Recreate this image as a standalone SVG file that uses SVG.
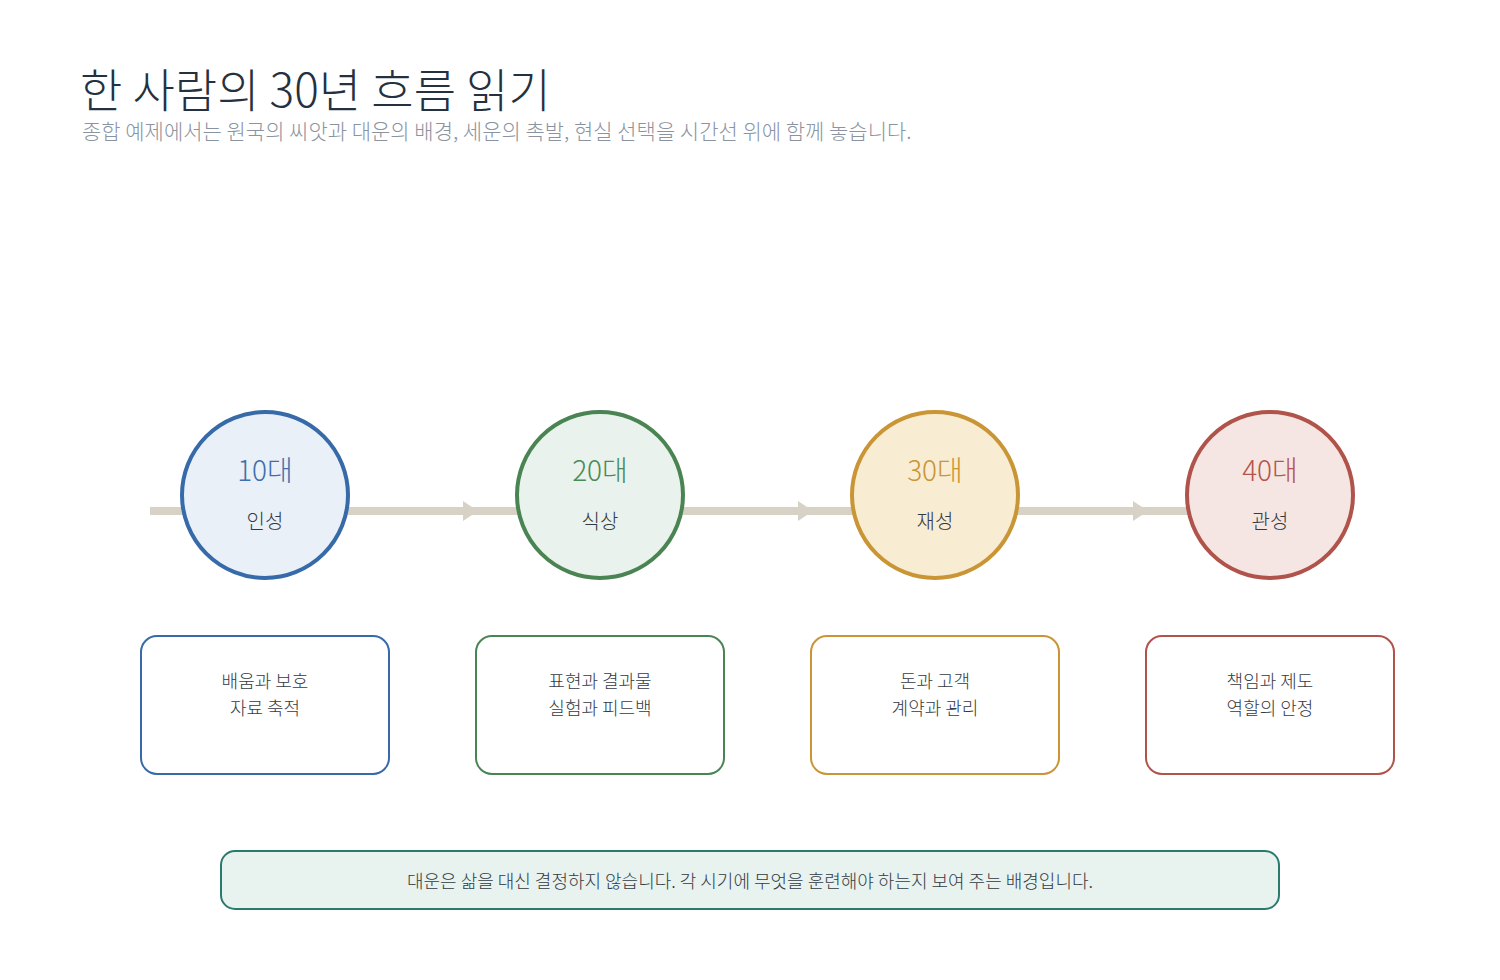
<svg xmlns="http://www.w3.org/2000/svg" width="1500" height="980" viewBox="0 0 1500 980">
<style>
text{font-family:"Noto Sans CJK KR","Noto Sans",sans-serif;}
.t{font-size:46px;fill:#243140;font-weight:300}
.s{font-size:21px;fill:#8a93a0;font-weight:300}
.age{font-size:28px;font-weight:300;text-anchor:middle}
.lab{font-size:20px;fill:#333a44;text-anchor:middle;font-weight:300}
.bx{font-size:18px;fill:#333a44;text-anchor:middle;font-weight:300}
.box{fill:#fff;stroke-width:2}
.c{stroke-width:4}
</style>
<rect width="1500" height="980" fill="#fff"/>
<text class="t" x="80" y="107">한 사람의 30년 흐름 읽기</text>
<text class="s" x="82" y="139">종합 예제에서는 원국의 씨앗과 대운의 배경, 세운의 촉발, 현실 선택을 시간선 위에 함께 놓습니다.</text>
<g id="connectors">
<line x1="150" y1="511" x2="1190" y2="511" stroke="#d8d1c6" stroke-width="8"/>
<polygon points="463,501 478,511 463,521" fill="#d8d1c6"/>
<polygon points="798,501 813,511 798,521" fill="#d8d1c6"/>
<polygon points="1133,501 1148,511 1133,521" fill="#d8d1c6"/>
</g>
<g id="n10"><circle class="c" cx="265" cy="495" r="83" fill="#e9f0f8" stroke="#376aa8"/><text class="age" x="265" y="481" fill="#3f6fab">10대</text><text class="lab" x="265" y="529">인성</text></g>
<g id="n20"><circle class="c" cx="600" cy="495" r="83" fill="#e9f2ec" stroke="#4a8453"/><text class="age" x="600" y="481" fill="#4a8a55">20대</text><text class="lab" x="600" y="529">식상</text></g>
<g id="n30"><circle class="c" cx="935" cy="495" r="83" fill="#f8ecd3" stroke="#c99535"/><text class="age" x="935" y="481" fill="#c99535">30대</text><text class="lab" x="935" y="529">재성</text></g>
<g id="n40"><circle class="c" cx="1270" cy="495" r="83" fill="#f5e6e3" stroke="#b0534a"/><text class="age" x="1270" y="481" fill="#b5554b">40대</text><text class="lab" x="1270" y="529">관성</text></g>
<g id="b10"><rect class="box" x="141" y="636" width="248" height="138" rx="16" stroke="#376aa8"/><text class="bx" x="265" y="688">배움과 보호</text><text class="bx" x="265" y="715">자료 축적</text></g>
<g id="b20"><rect class="box" x="476" y="636" width="248" height="138" rx="16" stroke="#4a8453"/><text class="bx" x="600" y="688">표현과 결과물</text><text class="bx" x="600" y="715">실험과 피드백</text></g>
<g id="b30"><rect class="box" x="811" y="636" width="248" height="138" rx="16" stroke="#c99535"/><text class="bx" x="935" y="688">돈과 고객</text><text class="bx" x="935" y="715">계약과 관리</text></g>
<g id="b40"><rect class="box" x="1146" y="636" width="248" height="138" rx="16" stroke="#b0534a"/><text class="bx" x="1270" y="688">책임과 제도</text><text class="bx" x="1270" y="715">역할의 안정</text></g>
<g id="note"><rect x="221" y="851" width="1058" height="58" rx="14" fill="#e8f2ee" stroke="#2a7a6e" stroke-width="2"/><text class="bx" x="750" y="888">대운은 삶을 대신 결정하지 않습니다. 각 시기에 무엇을 훈련해야 하는지 보여 주는 배경입니다.</text></g>
</svg>
